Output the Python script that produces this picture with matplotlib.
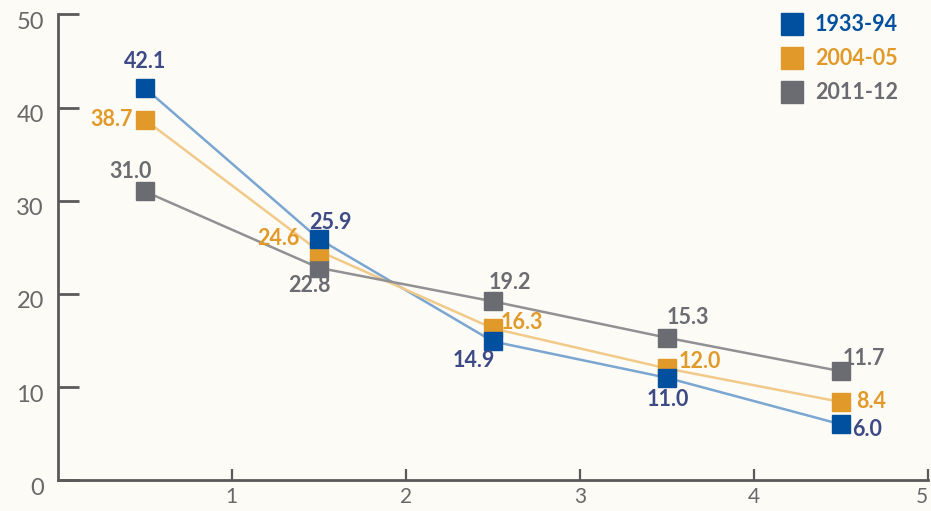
import matplotlib.pyplot as plt
from matplotlib.transforms import ScaledTranslation

periods = ["1933-94", "2004-05", "2011-12"]
x_pos = [0.5, 1.5, 2.5, 3.5, 4.5]
values = {
    "1933-94": [42.1, 25.9, 14.9, 11.0, 6.0],
    "2004-05": [38.7, 24.6, 16.3, 12.0, 8.4],
    "2011-12": [31.0, 22.8, 19.2, 15.3, 11.7],
}

marker_colors = {"1933-94": "#00509f", "2004-05": "#e19a29", "2011-12": "#6b6c71"}
line_colors = {"1933-94": "#7aa6d1", "2004-05": "#f1ca8a", "2011-12": "#919193"}
label_colors = {"1933-94": "#3d4a85", "2004-05": "#e19a29", "2011-12": "#6b6c71"}

# per-point label placement: (dx px, dy px, ha, va)
label_pos = {
    "1933-94": [(0, 16, "center", "bottom"), (-10, 6, "left", "bottom"),
                (-19, -9, "center", "top"), (1, -11, "center", "top"),
                (11, -5, "left", "center")],
    "2004-05": [(-12, 0, "right", "center"), (-19, 13, "right", "center"),
                (8, 6, "left", "center"), (12, 7, "left", "center"),
                (15, 1, "left", "center")],
    "2011-12": [(-14, 9, "center", "bottom"), (-9, -7, "center", "top"),
                (-4, 8, "left", "bottom"), (0, 10, "left", "bottom"),
                (1, 2, "left", "bottom")],
}

bg = "#fcfbf6"
fig, ax = plt.subplots(figsize=(9.31, 5.11), dpi=100)
fig.patch.set_facecolor(bg)
ax.set_facecolor(bg)
fig.subplots_adjust(left=0.062, right=0.997, top=0.972, bottom=0.06)

for p in periods:
    ax.plot(x_pos, values[p], color=line_colors[p], lw=1.8, zorder=1)
for z, p in zip([6, 5, 4], periods):
    ax.plot(x_pos, values[p], ls="none", marker="s", ms=12.5,
            color=marker_colors[p], zorder=z)
    for xv, yv, (dx, dy, ha, va) in zip(x_pos, values[p], label_pos[p]):
        ax.annotate(f"{yv:.1f}", (xv, yv), xytext=(dx, dy),
                    textcoords="offset pixels", ha=ha, va=va,
                    fontsize=15.5, fontweight="bold", color=label_colors[p],
                    family="Lato", zorder=7)

ax.set_xlim(0, 5)
ax.set_ylim(0, 50)
ax.set_xticks([1, 2, 3, 4, 5])
ax.set_yticks([0, 10, 20, 30, 40, 50])
for s in ["top", "right"]:
    ax.spines[s].set_visible(False)
for s in ["left", "bottom"]:
    ax.spines[s].set_color("#5a5a5a")
    ax.spines[s].set_linewidth(2)
ax.tick_params(axis="y", direction="in", length=15, width=2, color="#5a5a5a",
               labelsize=17, labelcolor="#686868", pad=10)
ax.tick_params(axis="x", direction="in", length=8, width=1.6, color="#5a5a5a",
               labelsize=15, labelcolor="#686868", pad=5)
shift = ScaledTranslation(0, -0.06, fig.dpi_scale_trans)
for lbl in ax.get_yticklabels():
    lbl.set_transform(lbl.get_transform() + shift)
for lbl in ax.get_xticklabels() + ax.get_yticklabels():
    lbl.set_family("Lato")
    lbl.set_fontweight("normal")
ax.get_xticklabels()[-1].set_ha("right")

# legend
for i, p in enumerate(periods):
    y = 0.953 - i * 0.067
    fig.patches.append(plt.Rectangle((0.839, y - 0.021), 0.0235, 0.043,
                                     transform=fig.transFigure,
                                     color=marker_colors[p]))
    fig.text(0.875, y, p, color=marker_colors[p], fontsize=15.5,
             fontweight="bold", family="Lato", va="center", ha="left")

fig.savefig("out.png", facecolor=bg)
